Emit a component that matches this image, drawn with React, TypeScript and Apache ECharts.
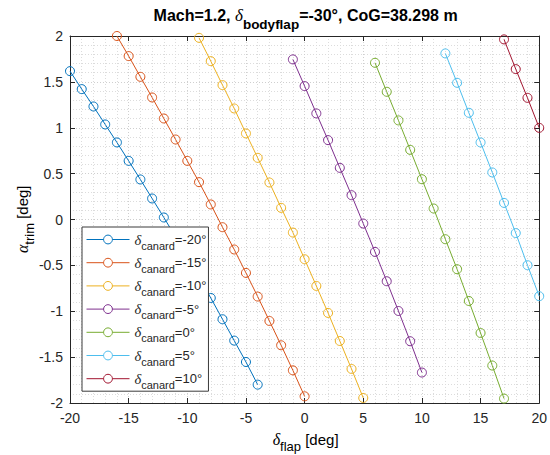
import React, { useEffect, useRef } from "react";
import * as echarts from "echarts";

// Canard deflection labels (legend) and colours
const canardLabels = ["-20°", "-15°", "-10°", "-5°", "0°", "5°", "10°"];
const seriesColors = ["#0072BD", "#D95319", "#EDB120", "#7E2F8E", "#77AC30", "#4DBEEE", "#A2142F"];

// First flap deflection (deg) of each curve; points follow at 1° steps
const flapStart = [-20, -16, -9, -1, 6, 12, 17];

// Trim angle of attack (deg) for each canard deflection
const alphaCanardM20 = [1.617, 1.421, 1.232, 1.036, 0.84, 0.639, 0.436, 0.229, 0.022, -0.19, -0.405, -0.63, -0.855, -1.087, -1.32, -1.553, -1.8];
const alphaCanardM15 = [2.0, 1.781, 1.555, 1.33, 1.101, 0.872, 0.639, 0.407, 0.164, -0.084, -0.327, -0.582, -0.84, -1.106, -1.371, -1.644, -1.927];
const alphaCanardM10 = [1.98, 1.726, 1.465, 1.21, 0.938, 0.672, 0.403, 0.127, -0.142, -0.433, -0.724, -1.018, -1.324, -1.629, -1.945];
const alphaCanardM5 = [1.745, 1.454, 1.156, 0.865, 0.563, 0.265, -0.044, -0.353, -0.673, -0.997, -1.327, -1.668];
const alphaCanard0 = [1.708, 1.392, 1.08, 0.759, 0.439, 0.12, -0.215, -0.542, -0.888, -1.237, -1.592, -1.952];
const alphaCanardP5 = [1.81, 1.49, 1.163, 0.84, 0.513, 0.181, -0.148, -0.498, -0.836];
const alphaCanardP10 = [1.963, 1.639, 1.326, 0.999];

const alphaSets = [alphaCanardM20, alphaCanardM15, alphaCanardM10, alphaCanardM5, alphaCanard0, alphaCanardP5, alphaCanardP10];

// Axis settings
const xMin = -20, xMax = 20, xStep = 5;
const yMin = -2, yMax = 2, yStep = 0.5;

const SANS = "'Liberation Sans', Arial, Helvetica, sans-serif";
const SERIF = "'Liberation Serif', 'Times New Roman', serif";
const AX = "#262626";

export default function App() {
  const ref = useRef<HTMLDivElement>(null);
  useEffect(() => {
    if (!ref.current) return;
    const chart = echarts.init(ref.current, null, { renderer: "svg" });

    const names = canardLabels.map((l) => `{d|δ}{s|canard}{m|=${l}}`);

    const series = alphaSets.map((vals, k) => ({
      type: "line",
      name: names[k],
      data: vals.map((v, i) => [flapStart[k] + i, v]),
      symbol: "circle",
      symbolSize: 9,
      clip: false,
      lineStyle: { color: seriesColors[k], width: 1 },
      itemStyle: { color: "rgba(255,255,255,0)", borderColor: seriesColors[k], borderWidth: 1 },
      emphasis: { disabled: true },
      z: 3,
    }));

    const gridLine = { show: true, lineStyle: { color: "#cfcfcf", width: 1, type: [1, 2] } };
    const minorLine = { show: true, lineStyle: { color: "#dcdcdc", width: 1, type: [1, 2] } };

    const axisCommonX = { type: "value", min: xMin, max: xMax, interval: xStep };
    const axisCommonY = { type: "value", min: yMin, max: yMax, interval: yStep };

    chart.setOption({
      animation: false,
      backgroundColor: "#ffffff",
      grid: { left: 70, right: 9, top: 36, bottom: 52, show: false },
      xAxis: [
        {
          ...axisCommonX,
          position: "bottom",
          axisLine: { show: true, onZero: false, lineStyle: { color: AX, width: 1 } },
          axisTick: { show: true, inside: true, length: 5, lineStyle: { color: AX } },
          axisLabel: { color: AX, fontSize: 14, fontFamily: SANS, margin: 8 },
          splitLine: gridLine,
          minorTick: { show: false, splitNumber: 5 },
          minorSplitLine: minorLine,
        },
        {
          ...axisCommonX,
          position: "top",
          axisLine: { show: true, onZero: false, lineStyle: { color: AX, width: 1 } },
          axisTick: { show: true, inside: true, length: 5, lineStyle: { color: AX } },
          axisLabel: { show: false },
          splitLine: { show: false },
        },
      ],
      yAxis: [
        {
          ...axisCommonY,
          position: "left",
          axisLine: { show: true, onZero: false, lineStyle: { color: AX, width: 1 } },
          axisTick: { show: true, inside: true, length: 5, lineStyle: { color: AX } },
          axisLabel: { color: AX, fontSize: 14, fontFamily: SANS, margin: 7 },
          splitLine: gridLine,
          minorTick: { show: false, splitNumber: 5 },
          minorSplitLine: minorLine,
        },
        {
          ...axisCommonY,
          position: "right",
          axisLine: { show: true, onZero: false, lineStyle: { color: AX, width: 1 } },
          axisTick: { show: true, inside: true, length: 5, lineStyle: { color: AX } },
          axisLabel: { show: false },
          splitLine: { show: false },
        },
      ],
      legend: {
        orient: "vertical",
        left: 82,
        top: 227,
        padding: [1, 2, 1, 4],
        itemGap: 0.2,
        itemWidth: 43,
        itemHeight: 11,
        backgroundColor: "#ffffff",
        borderColor: "#3a3a3a",
        borderWidth: 1,
        selectedMode: false,
        z: 10,
        data: names.map((n, k) => ({
          name: n,
          itemStyle: { color: "#ffffff", borderColor: seriesColors[k], borderWidth: 1 },
          lineStyle: { color: seriesColors[k], width: 1 },
        })),
        textStyle: {
          color: AX,
          fontSize: 13,
          fontFamily: SANS,
          rich: {
            d: { fontFamily: SERIF, fontStyle: "italic", fontSize: 14.5, color: AX },
            s: { fontFamily: SANS, fontSize: 11, lineHeight: 11, padding: [12, 0, 0, 0], color: AX },
            m: { fontFamily: SANS, fontSize: 13, color: AX },
          },
        },
      },
      graphic: [
        {
          type: "text",
          x: 305.6,
          y: 15,
          style: {
            text: "{b|Mach=1.2, }{d|δ}{s|bodyflap}{b|=-30°, CoG=38.298 m}",
            align: "center",
            verticalAlign: "middle",
            rich: {
              b: { fontFamily: SANS, fontWeight: "bold", fontSize: 16, color: "#000" },
              d: { fontFamily: SERIF, fontStyle: "italic", fontSize: 17, color: "#000" },
              s: { fontFamily: SANS, fontWeight: "bold", fontSize: 13.5, lineHeight: 13, padding: [18, 0, 0, 0], color: "#000" },
            },
          },
        },
        {
          type: "text",
          x: 305.6,
          y: 439,
          style: {
            text: "{d|δ}{s|flap}{m| [deg]}",
            align: "center",
            verticalAlign: "middle",
            rich: {
              d: { fontFamily: SERIF, fontStyle: "italic", fontSize: 16, color: AX },
              s: { fontFamily: SANS, fontSize: 13, lineHeight: 13, padding: [14, 0, 0, 0], color: AX },
              m: { fontFamily: SANS, fontSize: 15, color: AX },
            },
          },
        },
        {
          type: "text",
          x: 22,
          y: 219.3,
          rotation: Math.PI / 2,
          style: {
            text: "{d|α}{s|trim}{m| [deg]}",
            align: "center",
            verticalAlign: "middle",
            rich: {
              d: { fontFamily: SERIF, fontStyle: "italic", fontSize: 16, color: AX },
              s: { fontFamily: SANS, fontSize: 13, lineHeight: 13, padding: [14, 0, 0, 0], color: AX },
              m: { fontFamily: SANS, fontSize: 15, color: AX },
            },
          },
        },
      ],
      series,
    });
    return () => chart.dispose();
  }, []);
  return <div ref={ref} style={{ position: "fixed", left: 0, top: 0, width: 550, height: 455 }} />;
}
